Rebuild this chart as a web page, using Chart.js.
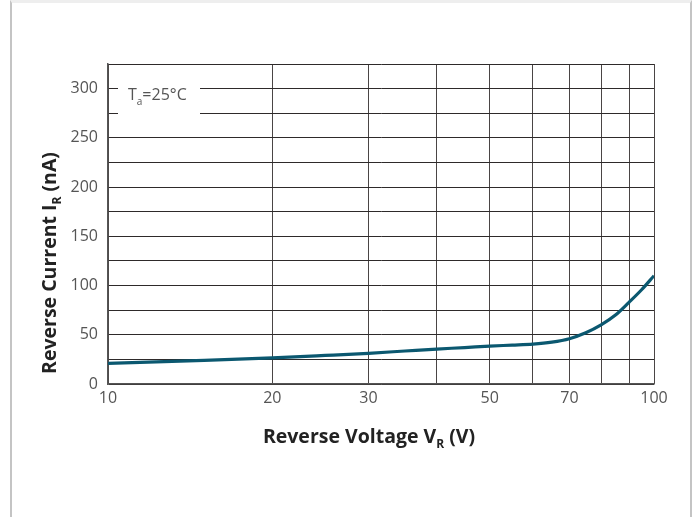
<!DOCTYPE html>
<html>
<head>
<meta charset="utf-8">
<script src="https://cdn.jsdelivr.net/npm/chart.js@4"></script>
<style>
    body { margin: 0; background: #fff; }
    #wrap { position: relative; width: 696px; height: 517px; }
    #frame { position: absolute; left: 10px; top: 0; width: 682px; height: 517px;
        border-left: 2px solid #c4c4c4; border-right: 2px solid #c4c4c4; border-top: 3px solid #eeeeee; box-sizing: border-box; }
    canvas { position: absolute; left: 0; top: 0; }
</style>
</head>
<body>
<div id="wrap">
    <div id="frame"></div>
    <canvas id="curva" width="696" height="517"></canvas>
</div>
<script>
// datos
const voltajes = [10, 15, 20, 25, 30, 35, 40, 45, 50, 55, 60, 65, 70, 75, 80, 85, 90, 95, 100];
const corrientes = [21, 24, 26.5, 29, 31.2, 33.5, 35.5, 37, 38.5, 39.5, 40.5, 42.5, 46, 52, 60, 70, 83, 96, 110];
const ticksX = [10, 20, 30, 40, 50, 60, 70, 80, 90, 100];
const etiquetasX = [10, 20, 30, 50, 70, 100];
const ticksY = [0, 25, 50, 75, 100, 125, 150, 175, 200, 225, 250, 275, 300, 325];
const etiquetasY = [0, 50, 100, 150, 200, 250, 300];

const fuente = "'Open Sans', 'Noto Sans', sans-serif";

// titulos con subindice + caja Ta
const titulos = {
    id: 'titulos',
    afterDraw(chart) {
        const ctx = chart.ctx;
        const area = chart.chartArea;
        ctx.save();
        // caja blanca sobre la reticula
        ctx.fillStyle = '#fff';
        ctx.fillRect(area.left + 10, 78, 82, 38);
        ctx.fillStyle = '#555';
        ctx.textBaseline = 'alphabetic';
        ctx.font = '16px ' + fuente;
        let x = area.left + 20;
        ctx.fillText('T', x, 100);
        x += ctx.measureText('T').width;
        ctx.font = '10px ' + fuente;
        ctx.fillText('a', x, 105);
        x += ctx.measureText('a').width;
        ctx.font = '16px ' + fuente;
        ctx.fillText('=25°C', x, 100);

        // titulo eje x
        ctx.fillStyle = '#222';
        const partesX = [['Reverse Voltage V', 19.5, 0], ['R', 12, 5], [' (V)', 19.5, 0]];
        dibujarPartes(ctx, partesX, 369, 443);
        // titulo eje y
        ctx.translate(56, 263);
        ctx.rotate(-Math.PI / 2);
        const partesY = [['Reverse Current I', 19.5, 0], ['R', 12, 5], [' (nA)', 19.5, 0]];
        dibujarPartes(ctx, partesY, 0, 0);
        ctx.restore();
    }
};

function dibujarPartes(ctx, partes, cx, y) {
    let total = 0;
    partes.forEach(p => {
        ctx.font = 'bold ' + p[1] + 'px ' + fuente;
        total += ctx.measureText(p[0]).width;
    });
    let x = cx - total / 2;
    partes.forEach(p => {
        ctx.font = 'bold ' + p[1] + 'px ' + fuente;
        ctx.fillText(p[0], x, y + p[2]);
        x += ctx.measureText(p[0]).width;
    });
}

const ctx = document.getElementById('curva').getContext('2d');
const grafico = new Chart(ctx, {
    type: 'line',
    data: {
        datasets: [{
            data: voltajes.map((v, i) => ({ x: v, y: corrientes[i] })),
            borderColor: '#0b5870',
            borderWidth: 3.2,
            pointRadius: 0,
            cubicInterpolationMode: 'monotone',
            fill: false
        }]
    },
    options: {
        responsive: false,
        animation: false,
        layout: { padding: { left: 0, right: 42, top: 64, bottom: 0 } },
        plugins: { legend: { display: false }, tooltip: { enabled: false } },
        scales: {
            x: {
                type: 'logarithmic',
                min: 10,
                max: 100,
                afterBuildTicks: axis => { axis.ticks = ticksX.map(v => ({ value: v })); },
                afterFit: axis => { axis.height = 133; },
                grid: { color: '#4a4545', lineWidth: 1, drawTicks: false },
                border: { color: '#555', width: 1.5 },
                ticks: {
                    autoSkip: false,
                    maxRotation: 0,
                    padding: 5,
                    color: '#555',
                    font: { family: fuente, size: 16 },
                    callback: v => etiquetasX.includes(v) ? String(v) : ''
                }
            },
            y: {
                min: 0,
                max: 325,
                afterBuildTicks: axis => { axis.ticks = ticksY.map(v => ({ value: v })); },
                afterFit: axis => { axis.width = 108; },
                grid: { color: '#2e2a2a', lineWidth: 1, drawTicks: false },
                border: { color: '#555', width: 1.5 },
                ticks: {
                    padding: 10,
                    color: '#555',
                    font: { family: fuente, size: 16 },
                    callback: v => etiquetasY.includes(v) ? String(v) : ''
                }
            }
        }
    },
    plugins: [titulos]
});
</script>
</body>
</html>
